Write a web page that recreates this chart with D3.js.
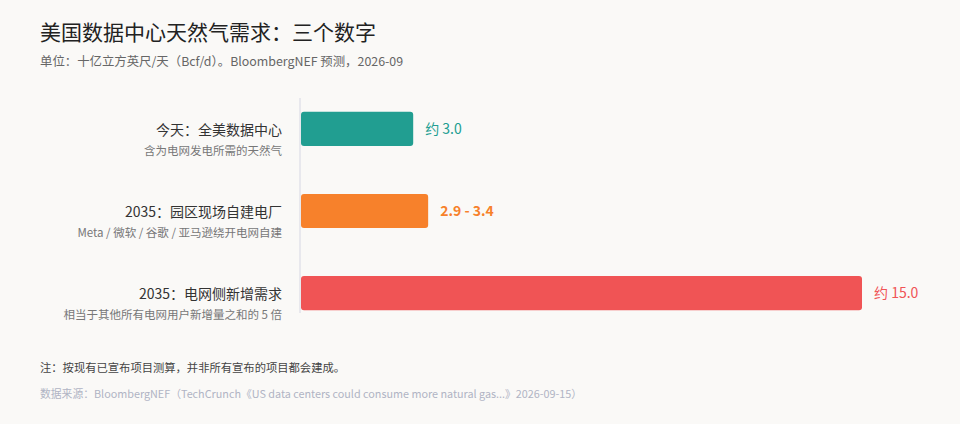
<!DOCTYPE html>
<html>
<head>
<meta charset="utf-8">
<script src="https://cdn.jsdelivr.net/npm/d3@7"></script>
<style>
  html, body { margin: 0; padding: 0; background: #faf9f7; }
  svg { display: block; font-family: "Noto Sans CJK SC", "Noto Sans", sans-serif; }
</style>
</head>
<body>
<script>
// chart data
var categories = ["今天：全美数据中心", "2035：园区现场自建电厂", "2035：电网侧新增需求"];
var subLabels = ["含为电网发电所需的天然气", "Meta / 微软 / 谷歌 / 亚马逊绕开电网自建", "相当于其他所有电网用户新增量之和的 5 倍"];
var lowValues = [3.0, 2.9, 15.0];
var highValues = [3.0, 3.4, 15.0];
var valueLabels = ["约 3.0", "2.9 - 3.4", "约 15.0"];
var barColors = ["#219e91", "#f7812b", "#f05455"];
var xMax = 15;

var width = 960, height = 424;

var svg = d3.select("body")
  .append("svg")
  .attr("width", width)
  .attr("height", height);

svg.append("rect")
  .attr("width", width)
  .attr("height", height)
  .attr("fill", "#faf9f7");

// titles
svg.append("text")
  .attr("x", 40).attr("y", 40)
  .attr("font-size", 21)
  .attr("fill", "#222")
  .text("美国数据中心天然气需求：三个数字");

svg.append("text")
  .attr("x", 40).attr("y", 66)
  .attr("font-size", 12.4)
  .attr("fill", "#666")
  .text("单位：十亿立方英尺/天（Bcf/d）。BloombergNEF 预测，2026-09");

var x = d3.scaleLinear()
  .domain([0, xMax])
  .range([301, 862]);

var y = d3.scaleBand()
  .domain(categories)
  .range([88, 334])
  .paddingInner(0.585)
  .paddingOuter(0.29);

// baseline
svg.append("line")
  .attr("x1", x(0) - 1).attr("x2", x(0) - 1)
  .attr("y1", 98).attr("y2", 313)
  .attr("stroke", "#e2e2ea")
  .attr("stroke-width", 1.5);

var rows = svg.append("g")
  .selectAll("g")
  .data(categories)
  .enter().append("g");

rows.append("rect")
  .attr("x", x(0))
  .attr("y", function (d) { return y(d); })
  .attr("width", function (d, i) { return x(highValues[i]) - x(0); })
  .attr("height", y.bandwidth())
  .attr("rx", 3)
  .attr("fill", function (d, i) { return barColors[i]; });

rows.append("text")
  .attr("x", 282)
  .attr("y", function (d) { return y(d) + y.bandwidth() / 2 + 6; })
  .attr("text-anchor", "end")
  .attr("font-size", 14)
  .attr("fill", "#333")
  .text(function (d) { return d; });

rows.append("text")
  .attr("x", 282)
  .attr("y", function (d) { return y(d) + y.bandwidth() / 2 + 26; })
  .attr("text-anchor", "end")
  .attr("font-size", 11.5)
  .attr("fill", "#777")
  .text(function (d, i) { return subLabels[i]; });

rows.append("text")
  .attr("x", function (d, i) { return x(highValues[i]) + 12; })
  .attr("y", function (d) { return y(d) + y.bandwidth() / 2 + 5; })
  .attr("font-size", function (d, i) { return i == 1 ? 14 : 14; })
  .attr("font-weight", function (d, i) { return i == 1 ? "bold" : "normal"; })
  .attr("fill", function (d, i) { return barColors[i]; })
  .text(function (d, i) { return valueLabels[i]; });

// notes
svg.append("text")
  .attr("x", 40).attr("y", 372)
  .attr("font-size", 11.3)
  .attr("fill", "#444")
  .text("注：按现有已宣布项目测算，并非所有宣布的项目都会建成。");

svg.append("text")
  .attr("x", 40).attr("y", 398)
  .attr("font-size", 10.8)
  .attr("fill", "#b0b4c4")
  .text("数据来源：BloombergNEF（TechCrunch《US data centers could consume more natural gas...》2026-09-15）");
</script>
</body>
</html>
